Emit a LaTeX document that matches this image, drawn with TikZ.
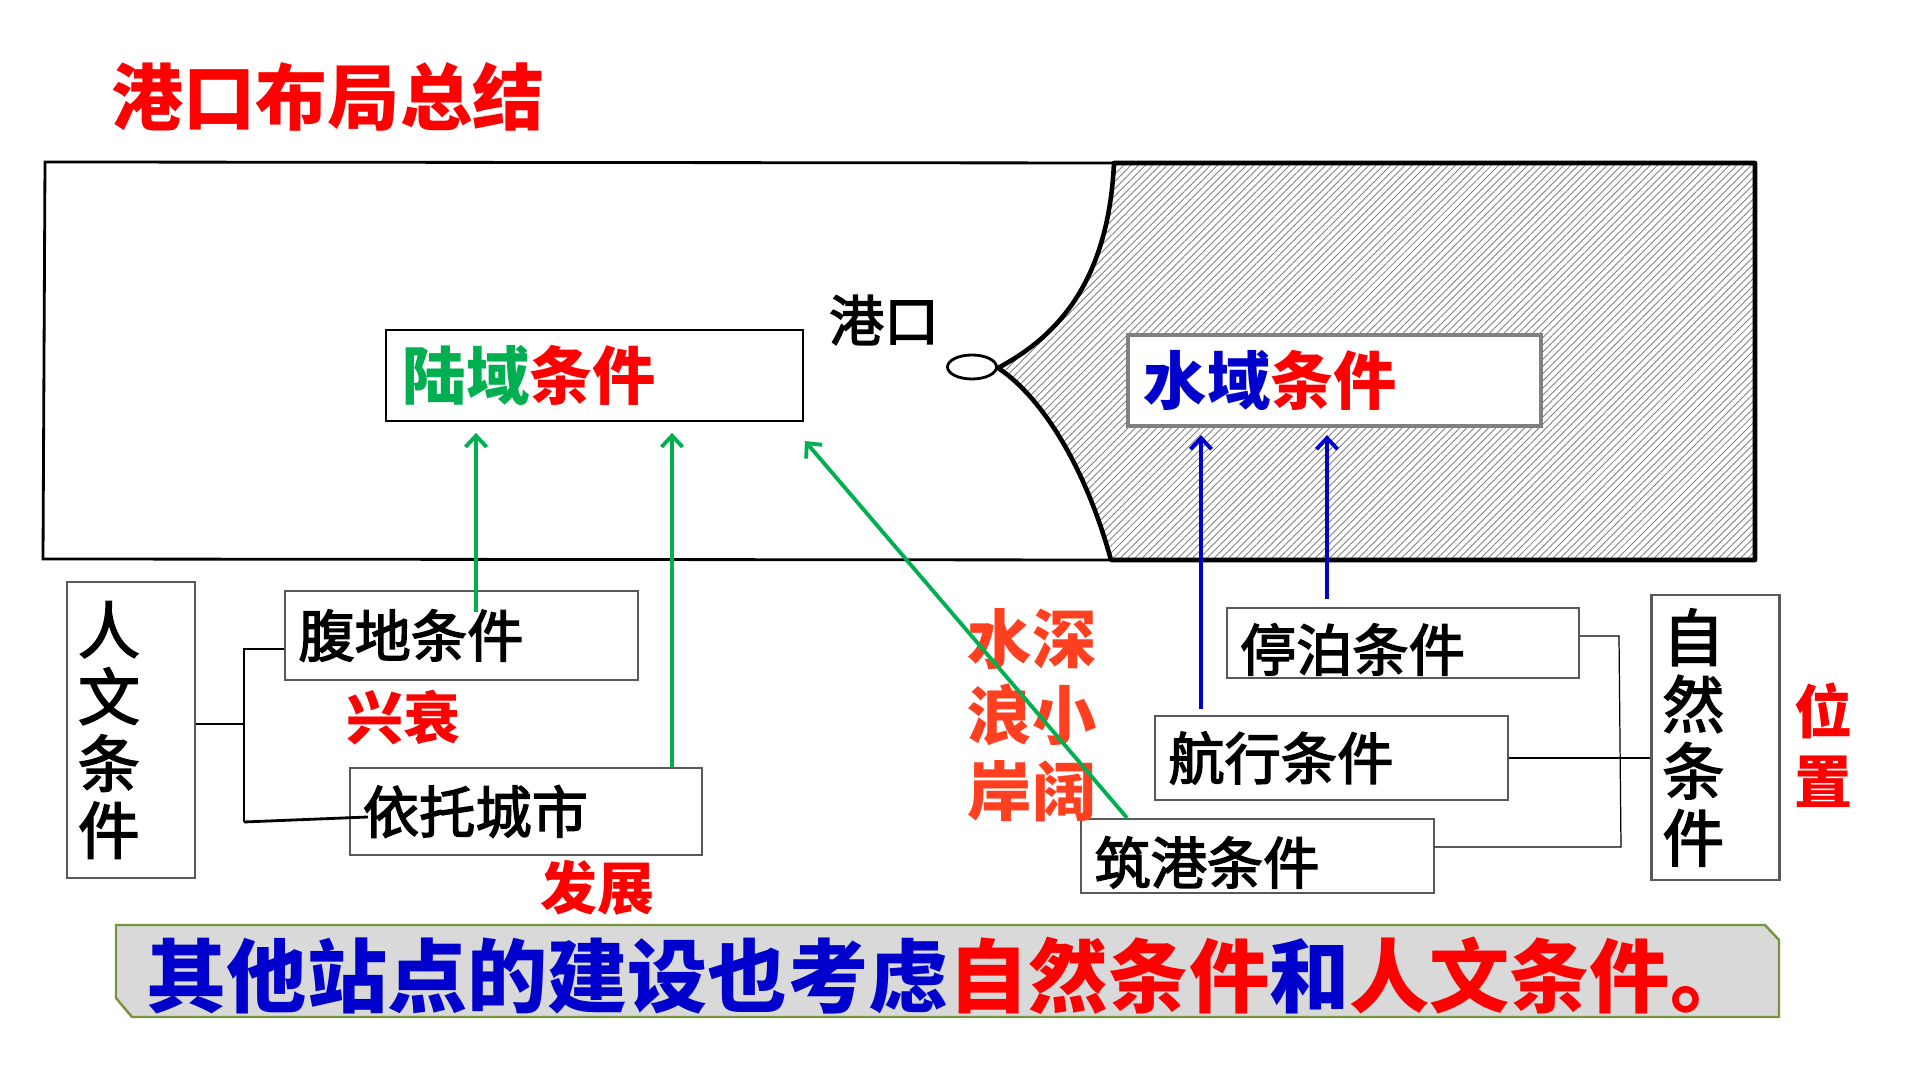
\documentclass[tikz,border=0pt]{standalone}
\usepackage{fontspec}
\setmainfont{Noto Sans CJK SC}
\newfontfamily\heifont{Noto Sans CJK SC}[FakeBold=2.5]
\usetikzlibrary{positioning,arrows.meta,shapes.geometric,patterns.meta}

\definecolor{lugreen}{RGB}{0,176,80}
\definecolor{shuiblue}{RGB}{0,0,204}
\definecolor{hongred}{RGB}{255,0,0}
\definecolor{chengred}{RGB}{255,64,32}
\definecolor{bannerfill}{RGB}{217,217,217}
\definecolor{bannerline}{RGB}{119,147,60}

\tikzset{
  condbox/.style={draw=black!65, line width=0.6pt, inner xsep=0.13cm, text width=3.26cm,
    minimum height=#1, align=left, font=\heifont\fontsize{16}{19}\selectfont},
  lowtext/.style={inner ysep=0pt, text height=0.62cm, text depth=0.06cm},
  vertbox/.style={draw=black!65, line width=0.6pt, inner xsep=0.11cm, text width=1.06cm,
    minimum height=#1, align=left, font=\heifont\fontsize{17.6}{19}\selectfont},
  redlabel/.style={text=hongred, align=center, font=\bfseries\fontsize{16.2}{20}\selectfont},
  link/.style={draw=black, line width=0.35pt},
  garrow/.style={draw=lugreen, line width=1.1pt, ->},
  barrow/.style={draw=shuiblue, line width=1.1pt, ->}
}

\begin{document}
\begin{tikzpicture}[x=0.01cm, y=-0.01cm, >={Straight Barb[length=3.2pt,width=6pt]}]
  \useasboundingbox (0,0) rectangle (1920,1080);

  % title
  \node[anchor=west, inner sep=0, text=hongred, font=\bfseries\fontsize{20.5}{24}\selectfont] (title) at (111,97) {港口布局总结};

  % land and sea
  \draw[line width=0.8pt] (1114,163) -- (45,162) -- (43,559) -- (1111,560);
  \fill[pattern={Lines[angle=45,distance=1.45pt,line width=0.25pt]}, pattern color=black!50]
    (1114,163) -- (1755,163) -- (1755,560) -- (1111,560)
    .. controls (1082,455) and (1035,392) .. (998,368)
    .. controls (1050,340) and (1108,290) .. (1114,163) -- cycle;
  \draw[line width=1.3pt, line join=round]
    (1114,163) -- (1755,163) -- (1755,560) -- (1111,560)
    .. controls (1082,455) and (1035,392) .. (998,368)
    .. controls (1050,340) and (1108,290) .. (1114,163) -- cycle;
  \node[draw, ellipse, line width=0.8pt, inner sep=0, minimum width=0.49cm, minimum height=0.24cm] (portmark) at (972,367) {};
  \node[font=\heifont\fontsize{15.6}{18}\selectfont] (gangkou) at (884,320) {港口};

  \node[draw=black, line width=0.5pt, inner xsep=0.17cm, text width=3.83cm, minimum height=0.91cm, align=left,
        font=\bfseries\fontsize{18}{21}\selectfont] (luyu) at (594.5,375.5) {\textcolor{lugreen}{陆域}\textcolor{hongred}{条件}};
  \node[draw=black!50, fill=white, line width=1.2pt, inner xsep=0.16cm, text width=3.81cm, minimum height=0.91cm, align=left,
        font=\bfseries\fontsize{18}{21}\selectfont] (shuiyu) at (1334.5,380.5) {\textcolor{shuiblue}{水域}\textcolor{hongred}{条件}};

  % human side
  \node[vertbox=2.96cm] (renwen) at (131,730) {人\\文\\条\\件};
  \node[condbox=0.89cm] (fudi) at (461.5,635.5) {腹地条件};
  \node[condbox=0.87cm] (yituo) at (526,811.5) {依托城市};
  \node[redlabel] (xingshuai) at (403,718) {兴衰};
  \node[redlabel] (fazhan) at (597,888) {发展};

  \coordinate (lbr) at (244,724);
  \coordinate (ltop) at (244,649);
  \coordinate (lbot) at (244,822);
  \coordinate (lend) at (368,817);
  \draw[link] (renwen.east |- lbr) -- (lbr);
  \draw[link] (fudi.west |- ltop) -- (ltop) -- (lbot);
  \draw[link, line width=0.8pt] (lbot) -- (lend);

  % natural side
  \node[vertbox=2.85cm] (ziran) at (1715.5,737.5) {自\\然\\条\\件};
  \node[condbox=0.70cm, lowtext] (tingbo) at (1403,643) {停泊条件};
  \node[condbox=0.84cm] (hangxing) at (1331.5,758) {航行条件};
  \node[condbox=0.74cm, lowtext] (zhugang) at (1257.5,856) {筑港条件};
  \node[redlabel, text=chengred, font=\bfseries\fontsize{18.3}{21.6}\selectfont] (shuishen) at (1032,715) {水深\\浪小\\岸阔};
  \node[redlabel, font=\bfseries\fontsize{16.5}{20}\selectfont] (weizhi) at (1824,745) {位\\置};

  \coordinate (rtop) at (1619,636);
  \coordinate (rbot) at (1621,847);
  \draw[link] (tingbo.east |- rtop) -- (rtop) -- (rbot) -- (zhugang.east |- rbot);
  \draw[link] (hangxing.east) -- (ziran.west |- hangxing.east);

  % arrows
  \coordinate (g1) at (476,612);
  \coordinate (g3tip) at (805,441);
  \draw[garrow, shorten >=0.11cm] (g1) -- (g1 |- luyu.south);
  \draw[garrow, shorten >=0.11cm] (672,0 |- yituo.north) -- (672,0 |- luyu.south);
  \draw[garrow] (1127,0 |- zhugang.north) -- (g3tip);
  \draw[barrow, shorten <=0.06cm, shorten >=0.07cm] (1201,0 |- hangxing.north) -- (1201,0 |- shuiyu.south);
  \draw[barrow, shorten <=0.08cm, shorten >=0.07cm] (1327,0 |- tingbo.north) -- (1327,0 |- shuiyu.south);

  % banner
  \draw[fill=bannerfill, draw=bannerline, line width=0.7pt]
    (116,925) -- (1765,925) -- (1779,940) -- (1779,1017) -- (132,1017) -- (116,998) -- cycle;
  \node[anchor=west, inner sep=0, font=\bfseries\fontsize{22.8}{26}\selectfont] (banner) at (146,976)
    {\textcolor{shuiblue}{其他站点的建设也考虑}\textcolor{hongred}{自然条件}\textcolor{shuiblue}{和}\textcolor{hongred}{人文条件。}};
\end{tikzpicture}
\end{document}
